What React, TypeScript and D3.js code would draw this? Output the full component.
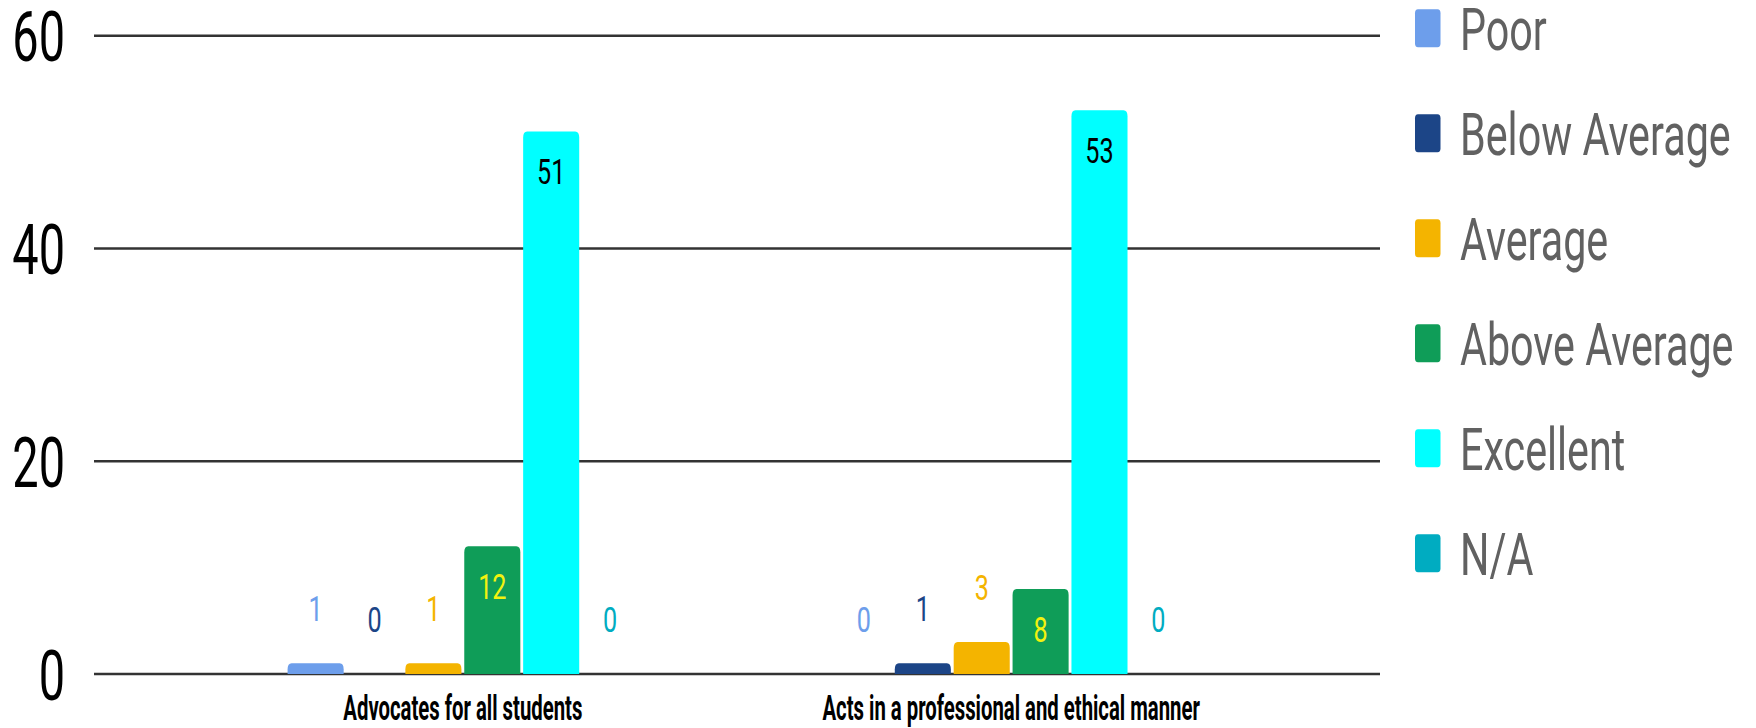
import React from "react";
import * as d3 from "d3";

const categories = ["Advocates for all students", "Acts in a professional and ethical manner"];
const seriesNames = ["Poor", "Below Average", "Average", "Above Average", "Excellent", "N/A"];
const seriesColors = ["#6d9eeb", "#1c4587", "#f4b400", "#0f9d58", "#00ffff", "#00acc1"];
const insideLabelColors = ["#000000", "#ffffff", "#000000", "#f2f20f", "#000000", "#000000"];
const poor = [1, 0];
const belowAverage = [0, 1];
const average = [1, 3];
const aboveAverage = [12, 8];
const excellent = [51, 53];
const notApplicable = [0, 0];
const yTicks = [0, 20, 40, 60];

const seriesValues = [poor, belowAverage, average, aboveAverage, excellent, notApplicable];

const W = 1756;
const H = 728;
const FONT = "Roboto, 'Noto Sans', sans-serif";

function topRoundedPath(x: number, y: number, w: number, h: number, rx: number, ry: number) {
  const r2 = Math.min(ry, h);
  const r1 = Math.min(rx, w / 2);
  return `M${x},${y + h} L${x},${y + r2} Q${x},${y} ${x + r1},${y} L${x + w - r1},${y} Q${x + w},${y} ${x + w},${y + r2} L${x + w},${y + h} Z`;
}

export default function App() {
  const x0 = d3.scaleBand<string>().domain(categories).range([94, 1380]).paddingInner(0).paddingOuter(0.1727);
  const groupSpan = 350.5;
  const x1 = d3.scaleBand<string>().domain(seriesNames).range([0, groupSpan]).paddingInner(0.048).paddingOuter(0);
  const y = d3.scaleLinear().domain([0, 60]).range([674, 35.7]);

  const bars: React.ReactNode[] = [];
  const labels: React.ReactNode[] = [];
  categories.forEach((cat, ci) => {
    const gx = (x0(cat) as number) + x0.bandwidth() / 2 - groupSpan / 2;
    seriesNames.forEach((s, si) => {
      const v = seriesValues[si][ci];
      const bx = gx + (x1(s) as number);
      const bw = x1.bandwidth();
      const top = y(v);
      const h = y(0) - top;
      if (v > 0) {
        bars.push(
          <path key={`b-${ci}-${si}`} d={topRoundedPath(bx, top, bw, h, 4, 6)} fill={seriesColors[si]} />
        );
      }
      const inside = h >= 60;
      const ly = inside ? top + 40 : top - 55;
      labels.push(
        <text
          key={`l-${ci}-${si}`}
          transform={`translate(${bx + bw / 2},${ly}) scale(0.7,1)`}
          textAnchor="middle"
          dy="0.36em"
          fontSize={36}
          fontFamily={FONT}
          fill={inside ? insideLabelColors[si] : seriesColors[si]}
        >
          {v}
        </text>
      );
    });
  });

  return (
    <svg width={W} height={H} style={{ position: "absolute", left: 0, top: 0, background: "#fff" }}>
      <rect x={0} y={0} width={W} height={H} fill="#ffffff" />
      {yTicks.map((t) => (
        <g key={`t-${t}`}>
          <line x1={94} x2={1380} y1={y(t)} y2={y(t)} stroke="#333" strokeWidth={2.5} />
          <text
            transform={`translate(65,${y(t)}) scale(0.66,1)`}
            textAnchor="end"
            dy="0.36em"
            fontSize={71}
            fontFamily={FONT}
            fill="#000"
          >
            {t}
          </text>
        </g>
      ))}
      {bars}
      {labels}
      {categories.map((c) => (
        <text
          key={`c-${c}`}
          transform={`translate(${(x0(c) as number) + x0.bandwidth() / 2},720) scale(0.58,1)`}
          textAnchor="middle"
          fontSize={35}
          fontWeight={700}
          fontFamily={FONT}
          fill="#000"
        >
          {c}
        </text>
      ))}
      {seriesNames.map((s, i) => {
        const cy = 28.3 + i * 105;
        return (
          <g key={`lg-${s}`}>
            <rect x={1415} y={cy - 19} width={25.5} height={38} rx={3} ry={4} fill={seriesColors[i]} />
            <text
              transform={`translate(1460,${cy}) scale(0.7,1)`}
              dy="0.36em"
              fontSize={59}
              fontFamily={FONT}
              fill="#616161"
            >
              {s}
            </text>
          </g>
        );
      })}
    </svg>
  );
}
